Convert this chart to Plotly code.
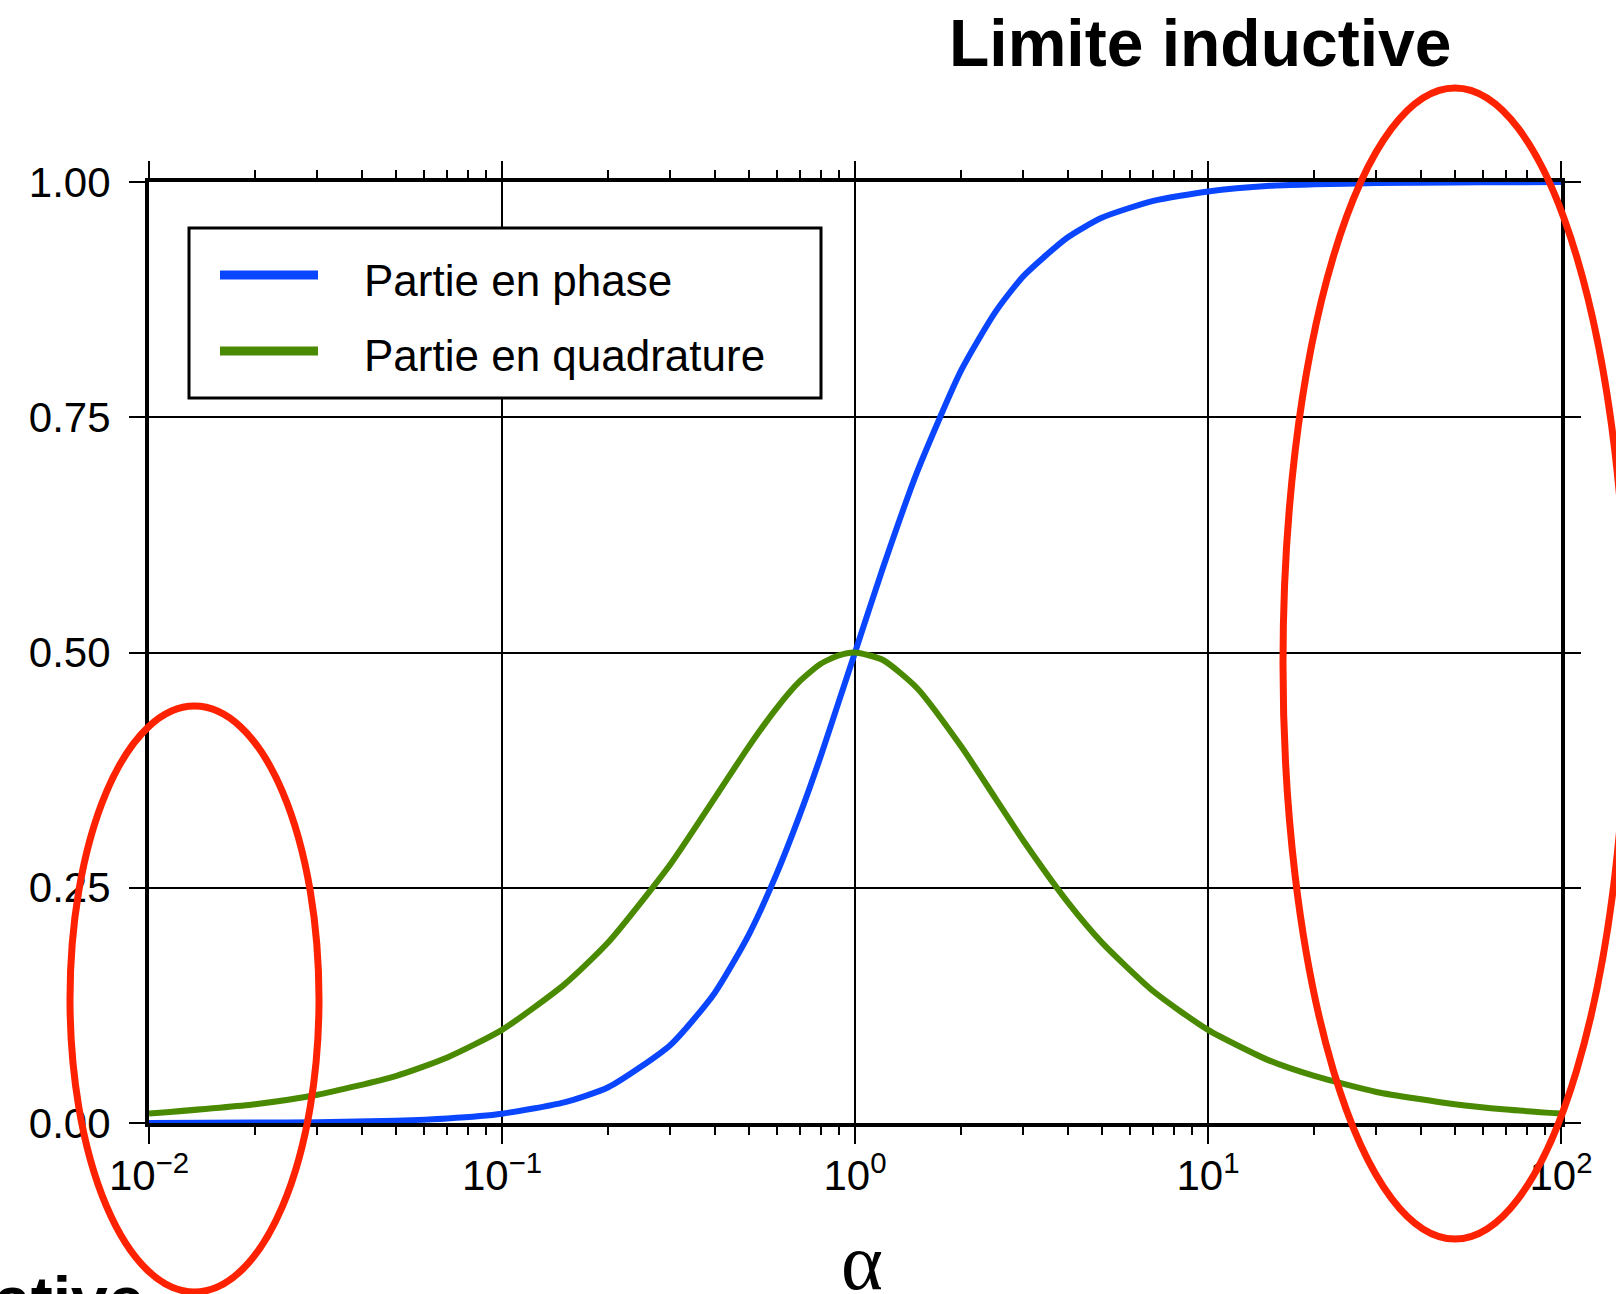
import plotly.graph_objects as go

# Normalised response of a conducting loop versus the induction parameter alpha
alpha = [0.01, 0.02, 0.03, 0.05, 0.07, 0.1, 0.15, 0.2, 0.3, 0.4, 0.5, 0.6, 0.7,
         0.8, 0.9, 1.0, 1.2, 1.5, 2.0, 2.5, 3.0, 4.0, 5.0, 7.0, 10.0, 15.0,
         20.0, 30.0, 50.0, 70.0, 100.0]
in_phase = [0.0001, 0.0004, 0.0009, 0.0025, 0.0049, 0.0099, 0.022, 0.038,
            0.083, 0.138, 0.200, 0.265, 0.329, 0.390, 0.448, 0.500, 0.590,
            0.692, 0.800, 0.862, 0.900, 0.941, 0.962, 0.980, 0.990, 0.996,
            0.9975, 0.9989, 0.9996, 0.9998, 0.9999]
quadrature = [0.0100, 0.0200, 0.0300, 0.0499, 0.0697, 0.099, 0.147, 0.192,
              0.275, 0.345, 0.400, 0.441, 0.470, 0.488, 0.497, 0.500, 0.492,
              0.462, 0.400, 0.345, 0.300, 0.235, 0.192, 0.140, 0.099, 0.066,
              0.050, 0.033, 0.020, 0.0143, 0.0100]

series_names = ["Partie en phase", "Partie en quadrature"]
series_colors = ["#0A46FF", "#4A8A00"]

x_tick_vals = [0.01, 0.1, 1, 10, 100]
x_tick_text = ["10<sup>\u22122</sup>", "10<sup>\u22121</sup>", "10<sup>0</sup>",
               "10<sup>1</sup>", "10<sup>2</sup>"]
x_minor_vals = [m * 10.0 ** e for e in (-2, -1, 0, 1) for m in range(2, 10)]
y_tick_vals = [0.0, 0.25, 0.5, 0.75, 1.0]
y_tick_text = ["0.00", "0.25", "0.50", "0.75", "1.00"]

W, H = 1616, 1294
L, R, T, B = 149, 1561, 182, 1123


def px(xp):
    return (xp - L) / (R - L)


def py(yp):
    return (B - yp) / (B - T)


fig = go.Figure()
for name, ys, col in zip(series_names, [in_phase, quadrature], series_colors):
    fig.add_trace(go.Scatter(x=alpha, y=ys, mode="lines", name=name,
                             line=dict(color=col, width=6, shape="spline",
                                       smoothing=0.6),
                             showlegend=False))

tick_font = dict(family="Liberation Sans, Arial, sans-serif", size=42,
                 color="black")

fig.update_xaxes(type="log", range=[-2, 2], tickvals=x_tick_vals,
                 ticktext=x_tick_text, ticks="outside", ticklen=17,
                 tickwidth=2, tickcolor="black", showline=True,
                 linewidth=4, linecolor="black", mirror="ticks",
                 showgrid=True, gridcolor="black", gridwidth=2,
                 tickfont=tick_font, ticklabelstandoff=-4,
                 minor=dict(tickvals=x_minor_vals, ticks="outside", ticklen=8,
                            tickwidth=2, tickcolor="black", showgrid=False),
                 zeroline=False)
fig.update_yaxes(range=[0, 1], tickvals=y_tick_vals, ticktext=y_tick_text,
                 ticks="outside", ticklen=16, tickwidth=2, tickcolor="black",
                 showline=True, linewidth=4, linecolor="black",
                 mirror="ticks", showgrid=True, gridcolor="black",
                 gridwidth=2, tickfont=tick_font, ticklabelstandoff=10,
                 zeroline=False)

shapes = []
annotations = []

# legend box drawn by hand so the line samples keep their length
shapes.append(dict(type="rect", xref="paper", yref="paper",
                   x0=px(189), x1=px(821), y0=py(398), y1=py(228),
                   line=dict(color="black", width=3), fillcolor="white",
                   layer="above"))
for name, col, yc, yt in zip(series_names, series_colors, [275, 351],
                             [280, 355]):
    shapes.append(dict(type="line", xref="paper", yref="paper",
                       x0=px(220), x1=px(318), y0=py(yc), y1=py(yc),
                       line=dict(color=col, width=9), layer="above"))
    annotations.append(dict(text=name, xref="paper", yref="paper",
                            x=px(362), y=py(yt), xanchor="left",
                            yanchor="middle", showarrow=False,
                            font=dict(family="Liberation Sans, Arial",
                                      size=44, color="black")))

# highlighted asymptotic regions
ellipse_line = dict(color="#FF2200", width=7)
shapes.append(dict(type="circle", xref="paper", yref="paper",
                   x0=px(70), x1=px(319), y0=py(1292), y1=py(706),
                   line=ellipse_line, layer="above"))
shapes.append(dict(type="circle", xref="paper", yref="paper",
                   x0=px(1283), x1=px(1627), y0=py(1239), y1=py(88),
                   line=ellipse_line, layer="above"))

annotations.append(dict(text="<b>Limite inductive</b>", xref="paper",
                        yref="paper", x=px(1200), y=py(43), xanchor="center",
                        yanchor="middle", showarrow=False,
                        font=dict(family="Liberation Sans, Arial", size=66,
                                  color="black")))
annotations.append(dict(text="<b>ative</b>", xref="paper", yref="paper",
                        x=px(146), y=py(1300), xanchor="right",
                        yanchor="middle", showarrow=False,
                        font=dict(family="Liberation Sans, Arial", size=66,
                                  color="black")))
annotations.append(dict(text="\u03b1", xref="paper", yref="paper",
                        x=px(862), y=py(1262), xanchor="center",
                        yanchor="middle", showarrow=False,
                        font=dict(family="Liberation Serif, Times New Roman",
                                  size=80, color="black")))

fig.update_layout(width=W, height=H,
                  margin=dict(l=L, r=W - R, t=T, b=H - B, pad=0),
                  paper_bgcolor="white", plot_bgcolor="white",
                  shapes=shapes, annotations=annotations, showlegend=False)

fig.write_html("out.html")
